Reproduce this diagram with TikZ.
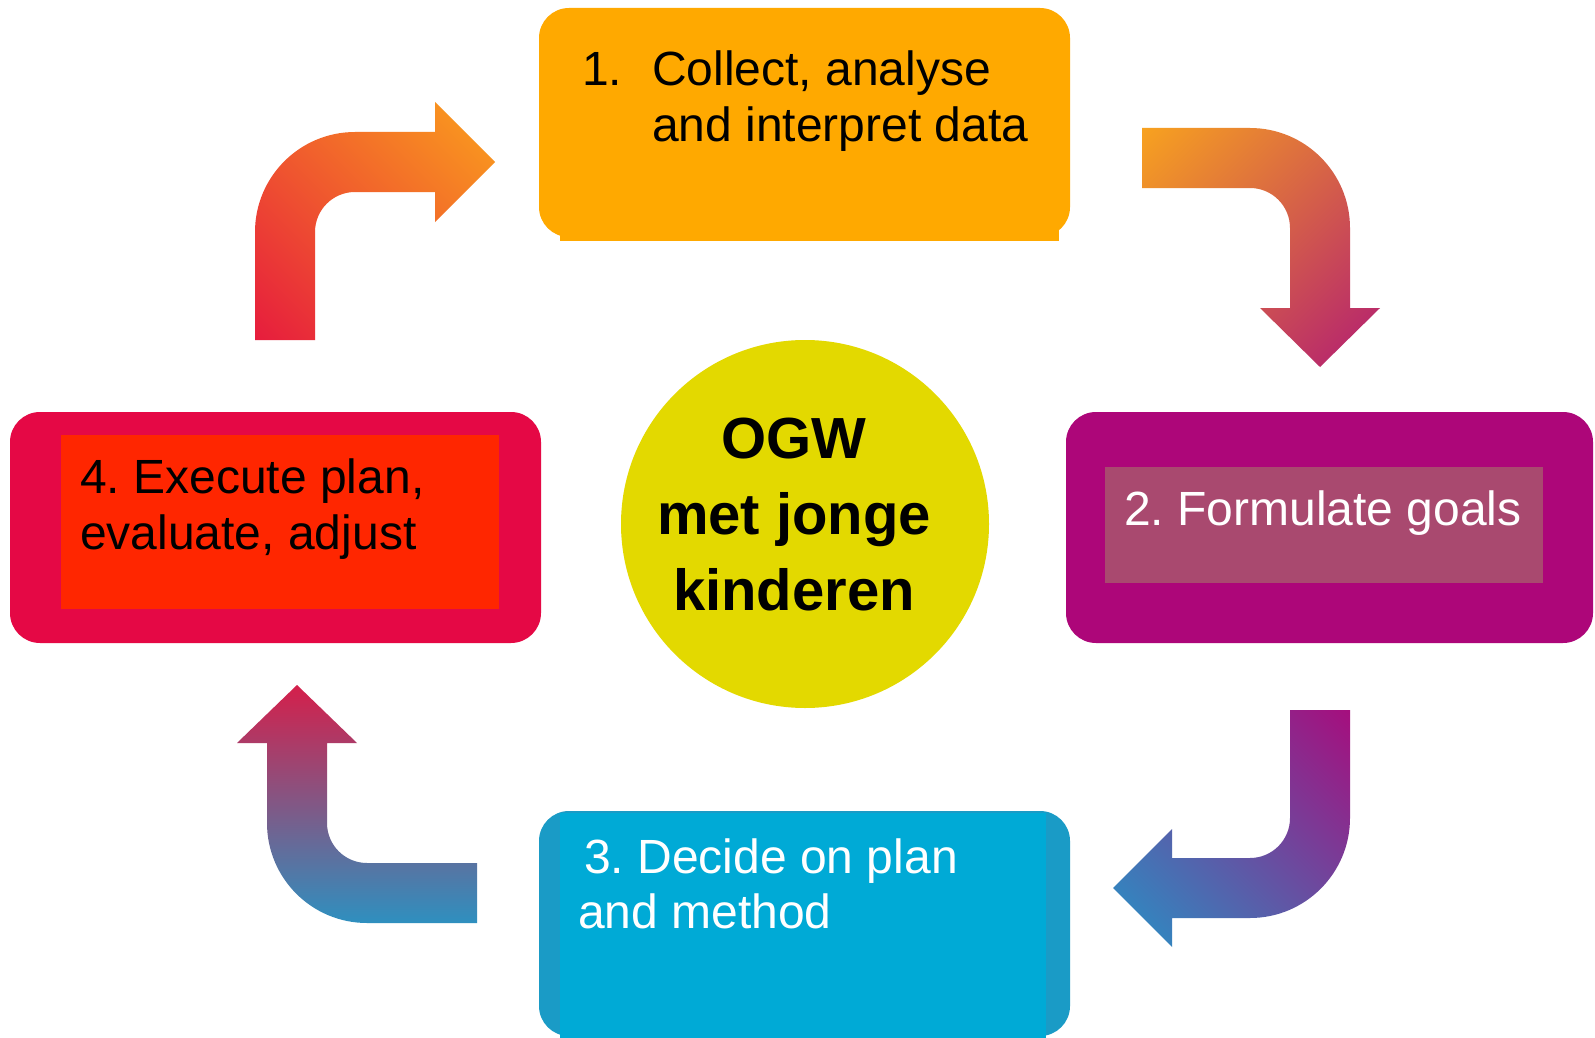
\documentclass[tikz,border=0pt]{standalone}
\usepackage{fontspec}
\setmainfont{Liberation Sans}
\definecolor{cOne}{HTML}{FFA900}
\definecolor{cTwo}{HTML}{AD0679}
\definecolor{cTwoIn}{HTML}{A9496F}
\definecolor{cThree}{HTML}{00AAD6}
\definecolor{cThreeEdge}{HTML}{1A9BC6}
\definecolor{cFour}{HTML}{E50845}
\definecolor{cFourIn}{HTML}{FF2600}
\definecolor{cCircle}{HTML}{E3D900}
\definecolor{aOrange}{HTML}{FCAA1A}
\definecolor{aRed}{HTML}{E5143F}
\definecolor{aPurple}{HTML}{AD1478}
\definecolor{aBlue}{HTML}{1E9BCB}
\pgfdeclareverticalshading{shFourOne}{100bp}{color(0bp)=(aRed); color(10bp)=(aRed); color(90bp)=(aOrange); color(100bp)=(aOrange)}
\pgfdeclareverticalshading{shOneTwo}{100bp}{color(0bp)=(aPurple); color(10bp)=(aPurple); color(90bp)=(aOrange); color(100bp)=(aOrange)}
\pgfdeclareverticalshading{shTwoThree}{100bp}{color(0bp)=(aBlue); color(10bp)=(aBlue); color(90bp)=(cTwo); color(100bp)=(cTwo)}
\pgfdeclareverticalshading{shThreeFour}{100bp}{color(0bp)=(aBlue); color(20bp)=(aBlue); color(80bp)=(aRed); color(100bp)=(aRed)}
\begin{document}
\frenchspacing
\begin{tikzpicture}[x=1pt,y=-1pt,
  boxtxt/.style={anchor=base west, inner sep=0pt, font=\fontsize{48}{56}\selectfont},
  ctxt/.style={anchor=base, inner sep=0pt, font=\fontsize{58}{66}\selectfont\bfseries},
  card/.style={rectangle, rounded corners=30pt, inner sep=0pt, outer sep=0pt}]
\fill[white] (0,0) rectangle (1595,1038);
\useasboundingbox (0,0) rectangle (1595,1038);

% arrow 4 -> 1
\shade[shading=shFourOne, shading angle=-45]
  (255,340) -- (255,232) .. controls (255,176.8) and (299.8,132) .. (355,132)
  -- (435,132) -- (435,102) -- (495,162) -- (435,222) -- (435,192) -- (355,192)
  .. controls (332.9,192) and (315,209.9) .. (315,232) -- (315,340) -- cycle;
% arrow 1 -> 2
\shade[shading=shOneTwo, shading angle=45]
  (1142,128) -- (1250,128) .. controls (1305.2,128) and (1350,172.8) .. (1350,228)
  -- (1350,308) -- (1380,308) -- (1320,367) -- (1260,308) -- (1290,308) -- (1290,228)
  .. controls (1290,205.9) and (1272.1,188) .. (1250,188) -- (1142,188) -- cycle;
% arrow 2 -> 3
\shade[shading=shTwoThree, shading angle=-45]
  (1290,710) -- (1350,710) -- (1350,818) .. controls (1350,873.2) and (1305.2,918) .. (1250,918)
  -- (1172,918) -- (1172,947) -- (1113,888) -- (1172,829) -- (1172,858) -- (1250,858)
  .. controls (1272.1,858) and (1290,840.1) .. (1290,818) -- cycle;
% arrow 3 -> 4
\shade[shading=shThreeFour]
  (297,685) -- (357,743) -- (327,743) -- (327,823) .. controls (327,845.1) and (344.9,863) .. (367,863)
  -- (477,863) -- (477,923) -- (367,923) .. controls (311.8,923) and (267,878.2) .. (267,823)
  -- (267,743) -- (237,743) -- cycle;

% box 1
\node[card, fill=cOne, minimum width=531pt, minimum height=229pt] (b1) at (804.5,122.5) {};
\fill[cOne] (560,30) rectangle (1059,241);
\node[boxtxt] (t1a) at (582,86) {1.};
\node[boxtxt] (t1b) at (652,86) {Collect, analyse};
\node[boxtxt] (t1c) at (652,142) {and interpret data};

% box 2
\node[card, fill=cTwo, minimum width=527pt, minimum height=231pt] (b2) at (1329.5,527.5) {};
\fill[cTwoIn] (1105,467) rectangle (1543,583);
\node[boxtxt, text=white] (t2) at (1124,525) {2. Formulate goals};

% box 3
\node[card, fill=cThreeEdge, minimum width=531pt, minimum height=225pt] (b3) at (804.5,923.5) {};
\fill[cThree] (560,813) rectangle (1046,1038);
\node[boxtxt, text=white] (t3a) at (584,873) {3. Decide on plan};
\node[boxtxt, text=white] (t3b) at (578,928) {and method};

% box 4
\node[card, fill=cFour, minimum width=531pt, minimum height=231pt] (b4) at (275.5,527.5) {};
\fill[cFourIn] (61,435) rectangle (499,609);
\node[boxtxt] (t4a) at (80,493) {4. Execute plan,};
\node[boxtxt] (t4b) at (80,549) {evaluate, adjust};

% centre circle
\node[circle, fill=cCircle, minimum size=368pt, inner sep=0pt] (c) at (805,524) {};
\node[ctxt] (c1) at (794,458) {OGW};
\node[ctxt] (c2) at (794,534) {met jonge};
\node[ctxt] (c3) at (794,610) {kinderen};
\end{tikzpicture}
\end{document}
